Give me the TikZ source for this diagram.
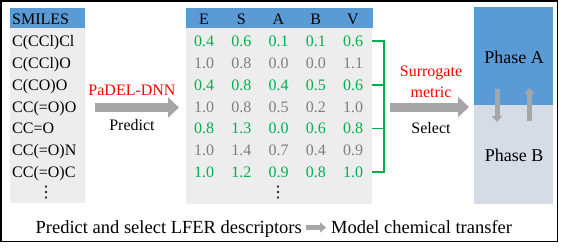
\documentclass[tikz,border=0pt]{standalone}
\usepackage{fontspec}
\setmainfont{Liberation Serif}
\newfontfamily\dotsfont{DejaVu Sans}
\usetikzlibrary{arrows.meta}

\definecolor{hdrblue}{HTML}{5B9BD5}
\definecolor{cellgray}{HTML}{EDEDED}
\definecolor{phaseb}{HTML}{D6DCE5}
\definecolor{selgreen}{HTML}{00B050}
\definecolor{numgray}{HTML}{7F7F7F}
\definecolor{arrowgray}{HTML}{A6A6A6}

\begin{document}
\begin{tikzpicture}[x=1pt,y=-1pt,
  panel/.style={inner sep=0pt, outer sep=0pt, anchor=north west, draw=none},
  celltxt/.style={inner sep=0pt, anchor=base, font=\fontsize{16}{19}\selectfont},
  smitxt/.style={celltxt, anchor=base west},
  labeltxt/.style={inner sep=0pt, font=\fontsize{16}{19}\selectfont},
  moretxt/.style={inner sep=0pt, font=\dotsfont\fontsize{16}{19}\selectfont},
  phasetxt/.style={inner sep=0pt, font=\fontsize{18}{21}\selectfont},
  foottxt/.style={inner sep=0pt, anchor=base, font=\fontsize{18.5}{22}\selectfont},
  bigarrow/.style={draw=arrowgray, line width=9pt, -{Triangle[length=11pt,width=20pt]}},
  smallarrow/.style={draw=arrowgray, line width=5pt, -{Triangle[length=6pt,width=10pt]}},
  footarrow/.style={draw=arrowgray, line width=5.5pt, -{Triangle[length=6pt,width=10pt]}},
  bracket/.style={draw=selgreen, line width=1.8pt}
]
\useasboundingbox (0,0) rectangle (561,250);

% outer frame
\draw[line width=1.6pt] (1,1) rectangle (557.5,241.5);

% ---- SMILES table ----
\node[panel, fill=hdrblue, minimum width=75pt, minimum height=20pt] (smhead) at (10,8) {};
\node[panel, fill=cellgray, minimum width=75pt, minimum height=175pt] (smbody) at (10,28) {};
\node[smitxt] (smtitle) at (12,24.3) {SMILES};
\foreach \s [count=\i] in {C(CCl)Cl, C(CCl)O, C(CO)O, CC(=O)O, CC=O, CC(=O)N, CC(=O)C}
  \node[smitxt] (smi\i) at (12,{41.3+(\i-1)*21.8+5.3}) {\s};
\node[moretxt] (smdots) at (46,193) {⋮};

% ---- descriptor table ----
\node[panel, fill=hdrblue, minimum width=187pt, minimum height=20pt] (dhead) at (186,8) {};
\node[panel, fill=cellgray, minimum width=186pt, minimum height=176pt] (dbody) at (186,28) {};
\foreach \h [count=\c] in {E,S,A,B,V}
  \node[celltxt] (h\c) at ({204+(\c-1)*37.25},24.3) {\h};
\foreach \row [count=\r] in {{0.4,0.6,0.1,0.1,0.6},{1.0,0.8,0.0,0.0,1.1},{0.4,0.8,0.4,0.5,0.6},
    {1.0,0.8,0.5,0.2,1.0},{0.8,1.3,0.0,0.6,0.8},{1.0,1.4,0.7,0.4,0.9},{1.0,1.2,0.9,0.8,1.0}}{
  \ifodd\r\def\numcol{selgreen}\else\def\numcol{numgray}\fi
  \foreach \v [count=\c] in \row
    \node[celltxt, text=\numcol] (d\r-\c) at ({204+(\c-1)*37.25},{41.3+(\r-1)*21.8+5.3}) {\v};
}
\node[moretxt] (ddots) at (278,193) {⋮};

% ---- bracket grouping the selected rows ----
\coordinate (b1) at (372,41.3);
\coordinate (b3) at (372,84.9);
\coordinate (b5) at (372,128.5);
\coordinate (b7) at (372,172.1);
\coordinate (bmid) at (384,107);
\draw[bracket] (b1) -- ++(12,0) |- (b7);
\draw[bracket] (b3) -- ++(12,0);
\draw[bracket] (b5) -- ++(12,0);

% ---- phases ----
\node[panel, fill=hdrblue, minimum width=79pt, minimum height=98pt] (phA) at (474,7) {};
\node[panel, fill=phaseb, minimum width=79pt, minimum height=99pt] (phB) at (474,105) {};
\node[phasetxt] (phAtxt) at (514,57) {Phase A};
\node[phasetxt] (phBtxt) at (514,155) {Phase B};
\draw[smallarrow] ([xshift=-16.5pt,yshift=16pt]phA.south) -- ([xshift=-16.5pt,yshift=-17pt]phA.south);
\draw[smallarrow] ([xshift=16pt,yshift=-16pt]phB.north) -- ([xshift=16pt,yshift=17pt]phB.north);

% ---- step arrows and labels ----
\coordinate (predrow) at (0,107.5);
\draw[bigarrow, shorten <=10pt, shorten >=7pt] (smbody.east |- predrow) -- (dbody.west |- predrow);
\node[labeltxt, text=red] (padel) at (132,90) {PaDEL-DNN};
\node[labeltxt] (predict) at (132,125) {Predict};

\draw[bigarrow, shorten <=6pt, shorten >=5pt] (bmid) -- (phA.west |- bmid);
\node[labeltxt, text=red] (surr) at (431,73) {Surrogate};
\node[labeltxt, text=red] (metric) at (431,92) {metric};
\node[labeltxt] (select) at (431,128) {Select};

% ---- footer ----
\node[foottxt, anchor=base east] (footL) at (302,233) {Predict and select LFER descriptors};
\node[foottxt, anchor=base west] (footR) at (331,233) {Model chemical transfer};
\draw[footarrow, shorten <=4pt, shorten >=5pt] (footL.east |- 0,227.5) -- (footR.west |- 0,227.5);
\end{tikzpicture}
\end{document}
